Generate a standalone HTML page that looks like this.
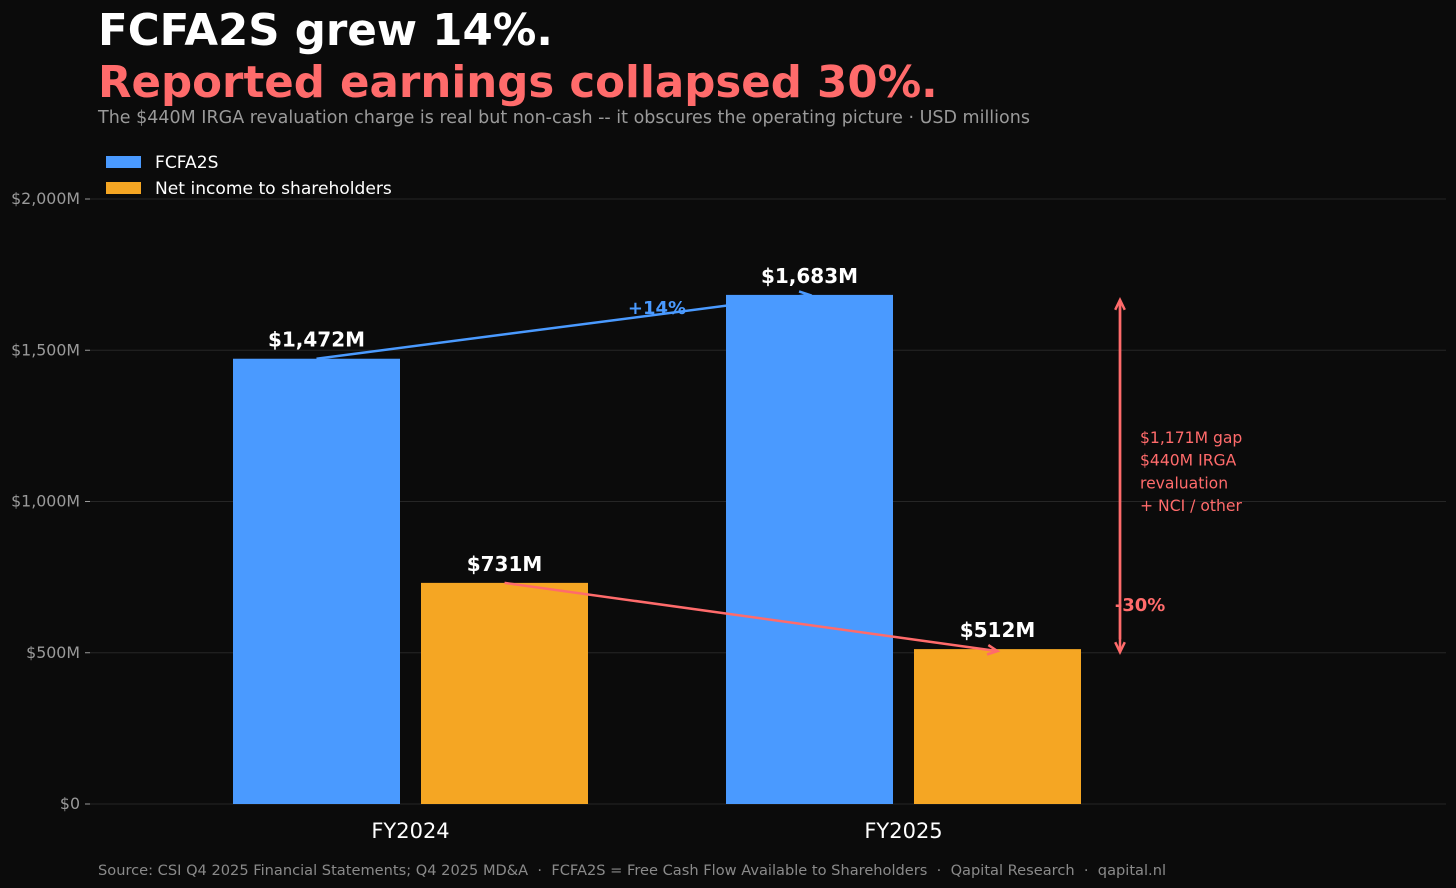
<!DOCTYPE html>
<html><head><meta charset="utf-8"><style>
html,body{margin:0;padding:0;background:#0b0b0b;}
svg{display:block;font-family:"DejaVu Sans","Liberation Sans",sans-serif;}
text{white-space:pre;}
</style></head><body>
<svg id="c" width="1456" height="888" viewBox="0 0 1456 888">
<rect width="1456" height="888" fill="#0b0b0b"/>
<text x="98" y="45" font-size="43.5" font-weight="bold" fill="#ffffff">FCFA2S grew 14%.</text>
<text x="98" y="97" font-size="43.5" font-weight="bold" fill="#ff6b6b">Reported earnings collapsed 30%.</text>
<text x="98" y="123" font-size="17.5" fill="#9a9a9a">The $440M IRGA revaluation charge is real but non-cash -- it obscures the operating picture · USD millions</text>
<g id="grid"></g>
<g id="bars"></g>
<g>
<rect x="106" y="156" width="35" height="12" fill="#4a9aff"/>
<text x="155" y="168" font-size="17.1" fill="#ffffff">FCFA2S</text>
<rect x="106" y="182" width="35" height="12" fill="#f5a623"/>
<text x="155" y="194" font-size="17.1" fill="#ffffff">Net income to shareholders</text>
</g>
<g id="ann"></g>
<text x="98" y="875" font-size="14.6" fill="#8a8a8a" xml:space="preserve">Source: CSI Q4 2025 Financial Statements; Q4 2025 MD&amp;A  ·  FCFA2S = Free Cash Flow Available to Shareholders  ·  Qapital Research  ·  qapital.nl</text>
</svg>
<script>
const categories = ["FY2024","FY2025"];
const fcfa2s = [1472,1683];
const netIncome = [731,512];
const yTicks = [0,500,1000,1500,2000];
const yTickLabels = ["$0","$500M","$1,000M","$1,500M","$2,000M"];
const NS="http://www.w3.org/2000/svg";
function y(v){return 804 - v*605/2000;}
function xc(i){return 410.5 + i*493;}
function mk(tag,attrs,parent,txt){const e=document.createElementNS(NS,tag);for(const k in attrs)e.setAttribute(k,attrs[k]);if(txt!==undefined)e.textContent=txt;parent.appendChild(e);return e;}
const grid=document.getElementById('grid'),bars=document.getElementById('bars'),ann=document.getElementById('ann');
yTicks.forEach((t,i)=>{
  const l=mk('line',{x1:90,x2:1446,y1:y(t),y2:y(t),stroke:'#262626','stroke-width':1},grid);
  
  
  mk('line',{x1:85,x2:90,y1:y(t),y2:y(t),stroke:'#9a9a9a'},grid);
  const tx=mk('text',{x:80,y:y(t)+5,'font-size':15.8,fill:'#9a9a9a','text-anchor':'end'},grid,yTickLabels[i]);
  
  
});
const bw=167;
categories.forEach((c,i)=>{
  const cx=xc(i);
  const b1=mk('rect',{x:cx-177.5,y:y(fcfa2s[i]),width:bw,height:y(0)-y(fcfa2s[i]),fill:'#4a9aff'},bars);
  
  
  const b2=mk('rect',{x:cx+10.5,y:y(netIncome[i]),width:bw,height:y(0)-y(netIncome[i]),fill:'#f5a623'},bars);
  
  
  const l1=mk('text',{x:cx-94,y:y(fcfa2s[i])-12,'font-size':20,'font-weight':'bold',fill:'#fff','text-anchor':'middle'},bars,'$'+fcfa2s[i].toLocaleString('en-US')+'M');
  
  
  const l2=mk('text',{x:cx+94,y:y(netIncome[i])-12,'font-size':20,'font-weight':'bold',fill:'#fff','text-anchor':'middle'},bars,'$'+netIncome[i].toLocaleString('en-US')+'M');
  
  
  const xl=mk('text',{x:cx,y:838,'font-size':21,fill:'#fff','text-anchor':'middle'},bars,c);
  
  
});
function arrow(x1,y1,x2,y2,col,name){
  const g=mk('g',{},ann);
  
  
  mk('line',{x1,y1,x2,y2,stroke:col,'stroke-width':2.5},g);
  const a=Math.atan2(y2-y1,x2-x1),L=11,w=0.45;
  mk('polyline',{points:`${x2-L*Math.cos(a-w)},${y2-L*Math.sin(a-w)} ${x2},${y2} ${x2-L*Math.cos(a+w)},${y2-L*Math.sin(a+w)}`,fill:'none',stroke:col,'stroke-width':2.5},g);
}
arrow(xc(0)-94,y(fcfa2s[0]),xc(1)-94,y(fcfa2s[1]),'#4a9aff','growth-arrow');
arrow(xc(0)+94,y(netIncome[0]),xc(1)+94,y(netIncome[1])+2,'#ff6b6b','decline-arrow');
const t1=mk('text',{x:657,y:314,'font-size':18,'font-weight':'bold',fill:'#4a9aff','text-anchor':'middle'},ann,'+14%');


arrow(1120,y(netIncome[1])-10,1120,y(fcfa2s[1])+5,'#ff6b6b','gap-arrow-up');
arrow(1120,y(fcfa2s[1])+8,1120,y(netIncome[1])+3,'#ff6b6b','gap-arrow-down');
const t2=mk('text',{x:1140,y:611,'font-size':18,'font-weight':'bold',fill:'#ff6b6b','text-anchor':'middle'},ann,'-30%');


["$1,171M gap","$440M IRGA","revaluation","+ NCI / other"].forEach((s,i)=>{
  const t=mk('text',{x:1140,y:443+i*22.7,'font-size':15.6,fill:'#ff6b6b'},ann,s);
  
  
});
</script>
</body></html>
